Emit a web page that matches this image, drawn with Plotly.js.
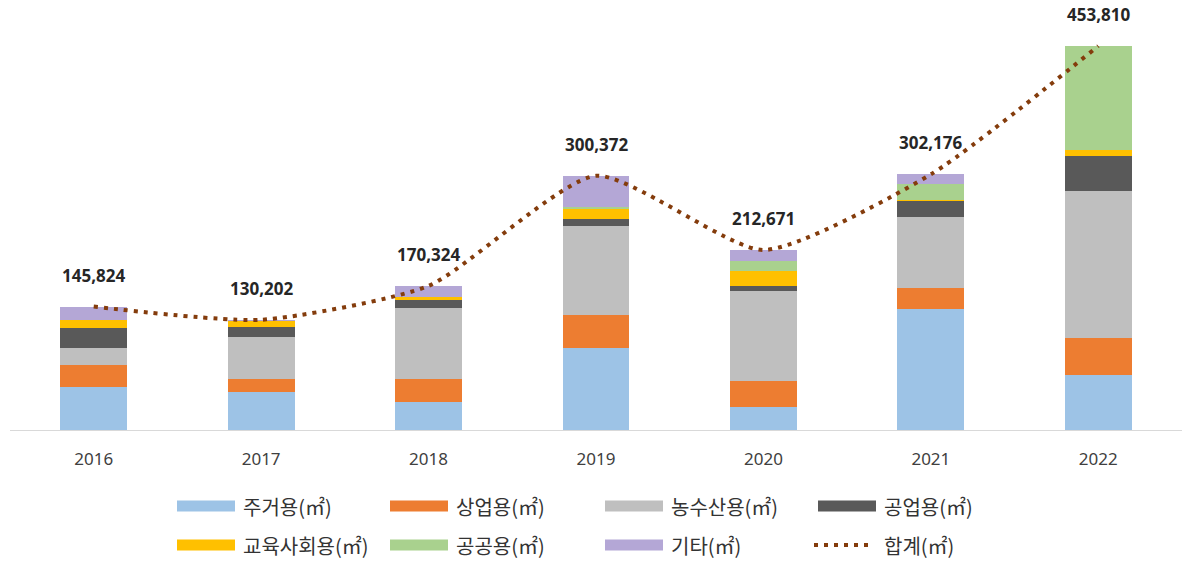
<!DOCTYPE html>
<html>
<head>
<meta charset="utf-8">
<script src="https://cdn.plot.ly/plotly-3.0.1.min.js"></script>
<style>
  html, body { margin: 0; padding: 0; background: #fff; }
  #chart { width: 1182px; height: 562px; }
</style>
</head>
<body>
<div id="chart"></div>
<script>
const years = ['2016', '2017', '2018', '2019', '2020', '2021', '2022'];

// 용도별 면적 (㎡)
const residential = [51200, 45300, 32700, 97300, 26800, 143000, 65000];
const commercial  = [25600, 15000, 27600, 38600, 31500, 25200, 43300];
const agriculture = [20500, 50000, 83500, 105200, 106000, 83200, 174100];
const industrial  = [22900, 11800, 9800, 7900, 5900, 19300, 41700];
const education   = [9800, 7000, 3200, 11800, 17700, 600, 6700];
const publicUse   = [0, 0, 0, 3000, 11800, 18900, 122900];
const other       = [15800, 1100, 13400, 36600, 13000, 11800, 100];
const totals      = [145824, 130202, 170324, 300372, 212671, 302176, 453810];

const seriesNames = ['주거용(㎡)', '상업용(㎡)', '농수산용(㎡)', '공업용(㎡)',
                     '교육사회용(㎡)', '공공용(㎡)', '기타(㎡)'];
const totalName = '합계(㎡)';
const seriesData = [residential, commercial, agriculture, industrial, education, publicUse, other];
const colors = ['#9DC3E6', '#ED7D31', '#BFBFBF', '#595959', '#FFC000', '#A9D18E', '#B4A7D6'];
const lineColor = '#843C0C';

const traces = seriesData.map((vals, i) => ({
  type: 'bar',
  name: seriesNames[i],
  x: years,
  y: vals,
  marker: { color: colors[i] },
  hoverinfo: 'skip'
}));

traces.push({
  type: 'scatter',
  mode: 'lines',
  name: totalName,
  x: years,
  y: totals,
  line: { color: lineColor, width: 4, dash: '4px,6px', shape: 'spline', smoothing: 0.6 },
  hoverinfo: 'skip'
});

// plot area in pixels, used to place the hand-made legend
const W = 1182, H = 562;
const M = { l: 10, r: 0, t: 20, b: 132 };
const pw = W - M.l - M.r, ph = H - M.t - M.b;
const px = x => (x - M.l) / pw;
const py = y => (H - M.b - y) / ph;

// total labels above the line (x given as category index)
const labels = totals.map((v, i) => ({
  x: i,
  y: v,
  xref: 'x',
  yref: 'y',
  text: v.toLocaleString('en-US'),
  showarrow: false,
  yanchor: 'bottom',
  yshift: 18,
  font: { family: 'Noto Sans', size: 17, color: '#262626', weight: 'bold' }
}));

// legend: 4 columns, 2 rows
const colX = [177, 390, 605, 818];
const rowY = [506, 545];
const legendNames = seriesNames.concat([totalName]);
const shapes = [];
const legendText = [];
legendNames.forEach((name, i) => {
  const c = i % 4, r = Math.floor(i / 4);
  const x0 = colX[c], yc = rowY[r];
  if (i < seriesNames.length) {
    shapes.push({
      type: 'rect', xref: 'paper', yref: 'paper',
      x0: px(x0), x1: px(x0 + 58), y0: py(yc + 5.5), y1: py(yc - 5.5),
      fillcolor: colors[i], line: { width: 0 }
    });
  } else {
    shapes.push({
      type: 'line', xref: 'paper', yref: 'paper',
      x0: px(x0 - 4), x1: px(x0 + 56), y0: py(yc), y1: py(yc),
      line: { color: lineColor, width: 4, dash: '4px,6px' }
    });
  }
  legendText.push({
    xref: 'paper', yref: 'paper',
    x: px(x0 + 64), y: py(yc),
    xanchor: 'left', yanchor: 'middle',
    text: name, showarrow: false,
    font: { family: 'Noto Sans CJK KR', size: 20, color: '#333333' }
  });
});

const layout = {
  width: W,
  height: H,
  margin: M,
  paper_bgcolor: '#ffffff',
  plot_bgcolor: '#ffffff',
  barmode: 'stack',
  bargap: 0.6,
  showlegend: false,
  xaxis: {
    type: 'category',
    range: [-0.5, years.length - 0.5],
    autorange: false,
    showline: true,
    linecolor: '#D9D9D9',
    linewidth: 1,
    showgrid: false,
    ticks: '',
    ticklabelstandoff: 14,
    tickfont: { family: 'Noto Sans', size: 17, color: '#404040' },
    fixedrange: true
  },
  yaxis: {
    range: [0, 484500],
    autorange: false,
    showgrid: false,
    zeroline: false,
    showticklabels: false,
    fixedrange: true
  },
  shapes: shapes,
  annotations: labels.concat(legendText)
};

Plotly.newPlot('chart', traces, layout, { displayModeBar: false, staticPlot: true });
</script>
</body>
</html>
